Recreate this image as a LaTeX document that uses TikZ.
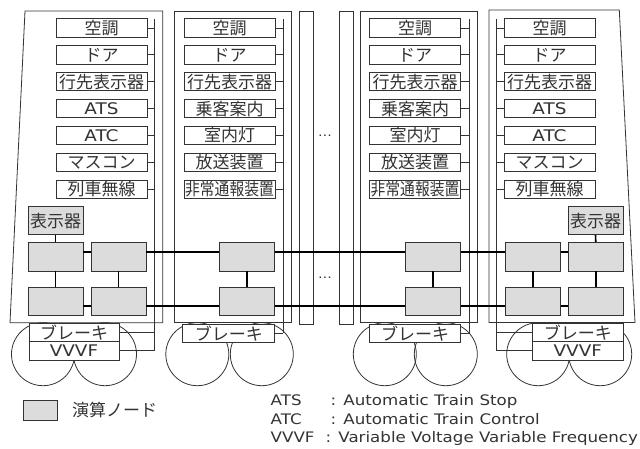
\documentclass[tikz,border=0pt]{standalone}
\usepackage{fontspec}
\usepackage{graphicx}
\setmainfont{Noto Sans CJK JP}
\newfontfamily\latinfont[FakeStretch=1.15]{DejaVu Sans}
\definecolor{linegray}{HTML}{333333}
\definecolor{nodegray}{HTML}{DCDCDC}
\newcommand\jpsz{\fontsize{17}{17}\selectfont}
\newcommand\latbox{\latinfont\fontsize{16}{16}\selectfont}
\newcommand\latleg{\latinfont\fontsize{14.5}{14.5}\selectfont}
\tikzset{
  wire/.style={draw=linegray, line width=0.8pt},
  busline/.style={draw=black, line width=1.6pt},
  dev/.style={draw=linegray, line width=0.8pt, fill=white, minimum width=91pt, minimum height=18.3pt, inner sep=0pt, text=linegray, font=\jpsz},
  calcnode/.style={draw=linegray, line width=0.9pt, fill=nodegray, minimum width=55pt, minimum height=28.3pt, inner sep=0pt, text=linegray, font=\jpsz},
  legtext/.style={inner sep=0pt, text=linegray, font=\latleg},
}
\begin{document}
\begin{tikzpicture}[x=1pt,y=-1pt]
\useasboundingbox (0,0) rectangle (640,448);
% car bodies
\draw[wire] (25,11) -- (162.7,11) -- (162.7,322.7) -- (10,322.7) -- cycle;
\draw[wire] (174,11.5) rectangle (291,322.5);
\draw[wire] (299.3,11.5) rectangle (313.3,324);
\draw[wire] (339.3,11.5) rectangle (353,324);
\draw[wire] (360.7,11.5) rectangle (477.5,322.5);
\draw[wire] (489,10) -- (619.3,10) -- (635,322.5) -- (489,322.5) -- cycle;
% wheels
\foreach \cx in {43,105,197.3,261.8,384.8,445.8,538.2,600.2}
  \draw[wire] (\cx,354.2) circle (31.5);
% bus coordinates
\coordinate (b1t) at (154.3,19);  \coordinate (b1b) at (154.3,350.8);
\coordinate (b2t) at (283,19);    \coordinate (b2b) at (283,333.3);
\coordinate (b3t) at (469,19);    \coordinate (b3b) at (469,333.3);
\coordinate (b4t) at (496.5,19);  \coordinate (b4b) at (496.5,350.8);
\draw[wire] (b1t) -- (b1b);
\draw[wire] (b2t) -- (b2b);
\draw[wire] (b3t) -- (b3b);
\draw[wire] (b4t) -- (b4b);
% devices car 1
\foreach \t [count=\i from 0] in {空調,ドア,行先表示器,{\latbox ATS},{\latbox ATC},マスコン,列車無線}{
  \node[dev] (c1d\i) at (101.5,{28+26.87*\i}) {\t};
  \draw[wire] (c1d\i.east) -- (c1d\i.east -| b1t);
}
% devices car 2
\foreach \t [count=\i from 0] in {空調,ドア,行先表示器,乗客案内,室内灯,放送装置,{\scalebox{0.87}[1]{非常通報装置}}}{
  \node[dev] (c2d\i) at (229.5,{28+26.87*\i}) {\t};
  \draw[wire] (c2d\i.east) -- (c2d\i.east -| b2t);
}
% devices car 3
\foreach \t [count=\i from 0] in {空調,ドア,行先表示器,乗客案内,室内灯,放送装置,{\scalebox{0.87}[1]{非常通報装置}}}{
  \node[dev] (c3d\i) at (415,{28+26.87*\i}) {\t};
  \draw[wire] (c3d\i.east) -- (c3d\i.east -| b3t);
}
% devices car 4
\foreach \t [count=\i from 0] in {空調,ドア,行先表示器,{\latbox ATS},{\latbox ATC},マスコン,列車無線}{
  \node[dev] (c4d\i) at (549.5,{28+26.87*\i}) {\t};
  \draw[wire] (c4d\i.west) -- (c4d\i.west -| b4t);
}
% brake / VVVF
\node[dev, minimum width=90pt, minimum height=18.4pt] (br1) at (74,332.5) {ブレーキ};
\node[dev, minimum width=90pt, minimum height=18.4pt] (vf1) at (74,350.8) {\latbox VVVF};
\node[dev, minimum width=92pt, minimum height=18pt] (br2) at (228.8,333.3) {ブレーキ};
\node[dev, minimum width=91.4pt, minimum height=18pt] (br3) at (415,333.3) {ブレーキ};
\node[dev, minimum width=91pt, minimum height=18.4pt] (br4) at (577.8,332.5) {ブレーキ};
\node[dev, minimum width=91pt, minimum height=18.4pt] (vf4) at (577.8,350.8) {\latbox VVVF};
\draw[wire] (br1.east) -- (br1.east -| b1t);
\draw[wire] (vf1.east) -- (vf1.east -| b1t);
\draw[wire] (br2.east) -- (br2.east -| b2t);
\draw[wire] (br3.east) -- (br3.east -| b3t);
\draw[wire] (br4.west) -- (br4.west -| b4t);
\draw[wire] (vf4.west) -- (vf4.west -| b4t);
% display units
\node[calcnode, minimum height=28pt] (disp1) at (55.5,220.7) {表示器};
\node[calcnode, minimum height=28pt] (disp4) at (595.5,220.7) {表示器};
% computing nodes
\node[calcnode] (n1ul) at (55.5,256.8) {};
\node[calcnode] (n1ur) at (118.5,256.8) {};
\node[calcnode] (n1ll) at (55.5,301.3) {};
\node[calcnode] (n1lr) at (118.5,301.3) {};
\node[calcnode] (n2u) at (246.8,256.8) {};
\node[calcnode] (n2l) at (246.8,301.3) {};
\node[calcnode] (n3u) at (433.2,256.8) {};
\node[calcnode] (n3l) at (433.2,301.3) {};
\node[calcnode] (n4ul) at (533,256.8) {};
\node[calcnode] (n4ur) at (595.8,256.8) {};
\node[calcnode] (n4ll) at (533,301.3) {};
\node[calcnode] (n4lr) at (595.8,301.3) {};
% network links
\draw[busline] ([yshift=5.1pt]n1ul.east) -- ([yshift=5.1pt]n1ur.west);
\draw[busline] ([yshift=5.1pt]n1ur.east) -- ([yshift=5.1pt]n2u.west);
\draw[busline] ([yshift=5.1pt]n2u.east) -- ([yshift=5.1pt]n3u.west);
\draw[busline] ([yshift=5.1pt]n3u.east) -- ([yshift=5.1pt]n4ul.west);
\draw[busline] ([yshift=5.1pt]n4ul.east) -- ([yshift=5.1pt]n4ur.west);
\draw[busline] ([yshift=-4.7pt]n1ll.east) -- ([yshift=-4.7pt]n1lr.west);
\draw[busline] ([yshift=-4.7pt]n1lr.east) -- ([yshift=-4.7pt]n2l.west);
\draw[busline] ([yshift=-4.7pt]n2l.east) -- ([yshift=-4.7pt]n3l.west);
\draw[busline] ([yshift=-4.7pt]n3l.east) -- ([yshift=-4.7pt]n4ll.west);
\draw[busline] ([yshift=-4.7pt]n4ll.east) -- ([yshift=-4.7pt]n4lr.west);
\draw[busline] (disp1.south) -- (n1ul.north);
\draw[busline] (disp4.south) -- (n4ur.north);
\draw[busline] (n1ul.south) -- (n1ll.north);
\draw[busline] (n1ur.south) -- (n1lr.north);
\draw[busline] (n2u.south) -- (n2l.north);
\draw[busline] (n3u.south) -- (n3l.north);
\draw[busline] (n4ul.south) -- (n4ll.north);
\draw[busline] (n4ur.south) -- (n4lr.north);
% ellipses
\node[inner sep=0pt, text=linegray, font=\latinfont\fontsize{12}{12}\selectfont, anchor=base] (dots1) at (325,136.5) {…};
\node[inner sep=0pt, text=linegray, font=\latinfont\fontsize{12}{12}\selectfont, anchor=base] (dots2) at (325,278.5) {…};
% legend
\node[calcnode, minimum width=34pt, minimum height=19.3pt] (legbox) at (40.3,410.3) {};
\node[anchor=west, inner sep=0pt, text=linegray, font=\jpsz] (legtxt) at (72,410) {演算ノード};
\node[legtext, anchor=base west] (ab1) at (270.5,405.7) {ATS};
\node[legtext, anchor=base west] (ab1d) at (330.5,405.7) {: Automatic Train Stop};
\node[legtext, anchor=base west] (ab2) at (270.5,424) {ATC};
\node[legtext, anchor=base west] (ab2d) at (330.5,424) {: Automatic Train Control};
\node[legtext, anchor=base west] (ab3) at (270.5,442.3) {VVVF};
\node[legtext, anchor=base west] (ab3d) at (325.5,442.3) {: Variable Voltage Variable Frequency};
\end{tikzpicture}
\end{document}
